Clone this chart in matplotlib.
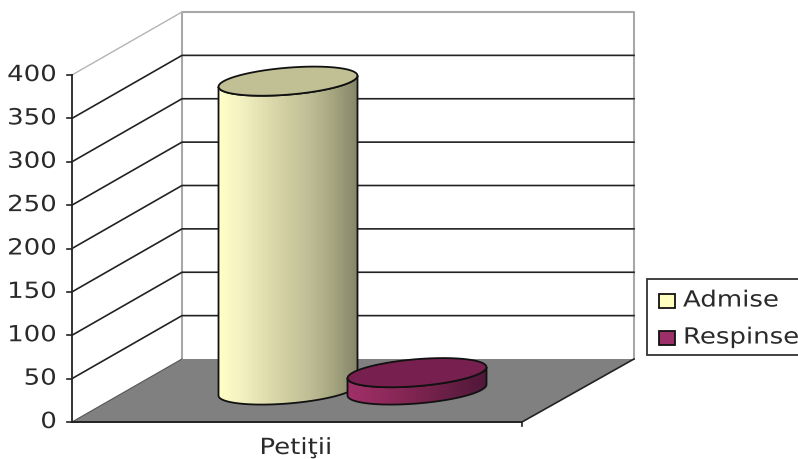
import matplotlib
matplotlib.use("Agg")
import matplotlib.pyplot as plt
import numpy as np
from matplotlib.colors import LinearSegmentedColormap
from matplotlib.patches import Polygon, Rectangle
from matplotlib.patheffects import AbstractPathEffect
from matplotlib.transforms import Affine2D

# Data
categories = ['Petiţii']
series_names = ['Admise', 'Respinse']
series_values = [356, 20]
y_ticks = [0, 50, 100, 150, 200, 250, 300, 350, 400]

# Colours
body_shades = [
    ['#ffffc8', '#f2f0c0', '#e0deb0', '#cfcd9f', '#bdbc94', '#a4a47f', '#85856a'],
    ['#a03068', '#962c60', '#8a2858', '#7c2450', '#6e2048', '#5e1c40', '#501838'],
]
top_colors = ['#c0c094', '#771f4f']
swatch_colors = ['#ffffc0', '#9c2f67']
line_dark = '#222222'
text_color = '#2a2a2a'
wall_grey = '#a8a8a8'

# Pixel layout of the fake 3d box
front_x, back_x = 72, 182
front_right, back_right = 522, 634
y_zero, y_max = 422, 75
depth_y = 63
bar_x = [288, 417]
bar_floor_y = 390
semi_a, semi_b, tilt = 69.5, 13.5, 5.5
text_stretch = 1.17


class StretchX(AbstractPathEffect):
    # the reference text is wider than any installed font, so widen the glyphs
    def __init__(self, x0, sx):
        super().__init__()
        self.x0 = x0
        self.sx = sx

    def draw_path(self, renderer, gc, tpath, affine, rgbFace=None):
        wide = affine + Affine2D().translate(-self.x0, 0).scale(self.sx, 1).translate(self.x0, 0)
        renderer.draw_path(gc, tpath, wide, rgbFace)


def wide_text(x, y, s, ha, zorder=14):
    ax.text(x, y, s, ha=ha, va='center', fontsize=16, color=text_color, zorder=zorder,
            path_effects=[StretchX(x, text_stretch)])


def val_y(v):
    return y_zero + (y_max - y_zero) * v / 400


def ellipse_pts(cx, cy, start, stop):
    t = np.linspace(start, stop, 60)
    return np.column_stack([cx + semi_a * np.cos(t),
                            cy + semi_b * np.sin(t) - tilt * np.cos(t)])


fig = plt.figure(figsize=(7.98, 4.59), dpi=100)
ax = fig.add_axes([0, 0, 1, 1])
ax.set_xlim(0, 798)
ax.set_ylim(459, 0)
ax.axis('off')

# floor
ax.add_patch(Polygon([(front_x, y_zero), (back_x, y_zero - depth_y),
                      (back_right, y_zero - depth_y), (front_right, y_zero)],
                     facecolor='#808080', edgecolor='none', zorder=1))

# walls and grid
top_back = val_y(400) - depth_y
ax.plot([back_x, back_x, back_right, back_right],
        [y_zero - depth_y, top_back, top_back, y_zero - depth_y],
        color=wall_grey, lw=1.5, zorder=2)
ax.plot([front_x, back_x], [val_y(400), top_back], color='#b4b4b4', lw=1.0, zorder=2)
for v in y_ticks[1:-1]:
    y = val_y(v)
    ax.plot([front_x, back_x, back_right], [y, y - depth_y, y - depth_y],
            color=line_dark, lw=1.2, zorder=2)

# axes lines
ax.plot([front_x, front_x], [y_zero, val_y(400)], color='#333333', lw=1.4, zorder=3)
ax.plot([front_x, front_right], [y_zero, y_zero], color=line_dark, lw=1.4, zorder=3)
ax.plot([front_x, back_x], [y_zero, y_zero - depth_y], color='#555555', lw=0.8, zorder=2)
ax.plot([front_right, back_right], [y_zero, y_zero - depth_y], color=line_dark, lw=1.2, zorder=3)
ax.plot([front_right, front_right], [y_zero, y_zero + 4], color=line_dark, lw=1.2, zorder=3)
for v in y_ticks:
    ax.plot([front_x - 5, front_x], [val_y(v), val_y(v)], color=line_dark, lw=1.2, zorder=3)
    wide_text(57, val_y(v), str(v), 'right')

# cylinders
z = 4
for i, value in enumerate(series_values):
    cx = bar_x[i]
    top_y = val_y(value) - (y_zero - bar_floor_y)
    outline = np.vstack([ellipse_pts(cx, bar_floor_y, np.pi, 0),
                         ellipse_pts(cx, top_y, 0, np.pi)])
    body = Polygon(outline, closed=True, facecolor='none', edgecolor='none')
    ax.add_patch(body)
    cmap = LinearSegmentedColormap.from_list('shade', body_shades[i])
    im = ax.imshow(np.linspace(0, 1, 140).reshape(1, -1), cmap=cmap, aspect='auto',
                   extent=[cx - semi_a, cx + semi_a, 459, 0], zorder=z)
    im.set_clip_path(body)
    ax.add_patch(Polygon(outline, closed=True, facecolor='none', edgecolor='#111111',
                         lw=1.3, zorder=z + 1))
    ax.add_patch(Polygon(ellipse_pts(cx, top_y, 0, 2 * np.pi), closed=True,
                         facecolor=top_colors[i], edgecolor='#111111', lw=1.3, zorder=z + 1))
    z += 2
ax.set_xlim(0, 798)
ax.set_ylim(459, 0)

# category label
wide_text(296, 448, categories[0], 'center')

# legend, its right edge runs off the picture
ax.add_patch(Rectangle((647, 279), 155, 76, facecolor='white', edgecolor='#333333', lw=1.3, zorder=12))
for i, name in enumerate(series_names):
    sy = [294, 331][i]
    ax.add_patch(Rectangle((659, sy), 16, 14, facecolor=swatch_colors[i], edgecolor='#111111',
                           lw=1.3, zorder=13))
    wide_text(683, sy + 6.5, name, 'left')

fig.savefig('out.png', dpi=100)
